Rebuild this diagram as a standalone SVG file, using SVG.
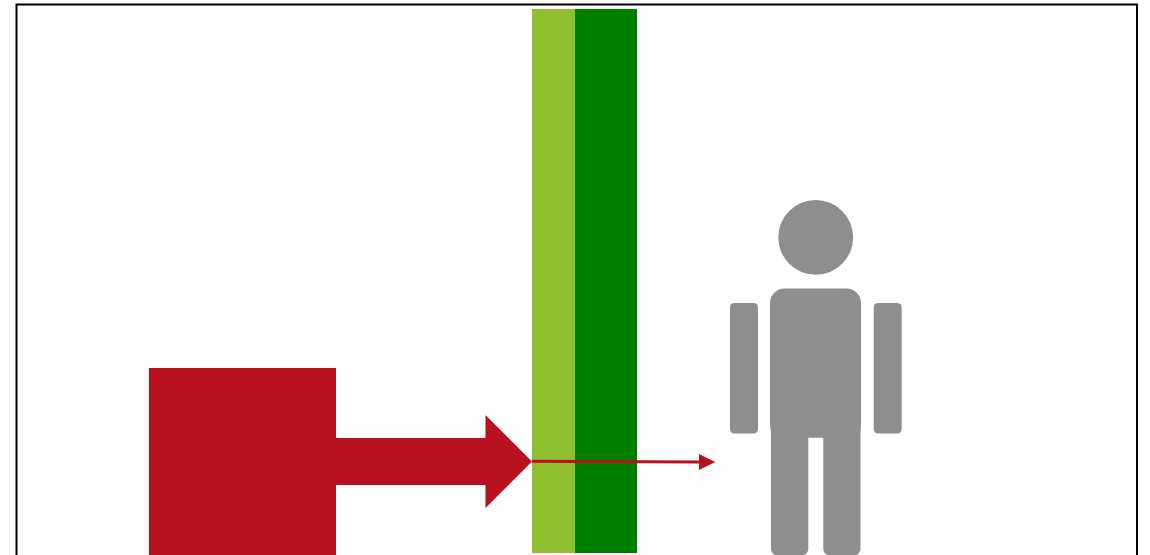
<svg xmlns="http://www.w3.org/2000/svg" width="1150" height="555" viewBox="0 0 1150 555">
<style>
.red{fill:#b7101f}
.grey{fill:#8e8e8e}
</style>
<rect width="1150" height="555" fill="#fff"/>
<path id="frame" d="M16.500 556V4.500H1137V556" fill="none" stroke="#000" stroke-width="2"/>
<g id="layer-light"><rect x="532" y="9" width="43" height="544" fill="#8fbf2f"/></g>
<g id="layer-dark"><rect x="575" y="9" width="62" height="544" fill="#008000"/></g>
<g id="source"><rect class="red" x="149" y="368" width="187" height="187"/></g>
<g id="person">
<circle class="grey" cx="815.700" cy="237.400" r="37.400"/>
<rect class="grey" x="730" y="303" width="28" height="130.600" rx="4.500"/>
<rect class="grey" x="873.700" y="303" width="28" height="130.600" rx="4.500"/>
<path class="grey" d="M770 303A14.500 14.500 0 0 1 784.500 288.500H846.500A14.500 14.500 0 0 1 861 303V422Q861 428 860.500 432V549A6.500 6.500 0 0 1 854 555.500H829.500A6.200 6.500 0 0 1 823.300 549V437.700H808.300V549A6.500 6.500 0 0 1 802 555.500H777.500A6.500 6.500 0 0 1 771 549V432Q770 428 770 422Z"/>
</g>
<g id="connectors">
<path class="red" d="M336 438H485.500V415L532 461.500L485.500 508V485H336Z"/>
<path d="M532 461.300L700 461.900" fill="none" stroke="#b7101f" stroke-width="3"/>
<path class="red" d="M699 454L715.300 462L699 470Z"/>
</g>
</svg>
